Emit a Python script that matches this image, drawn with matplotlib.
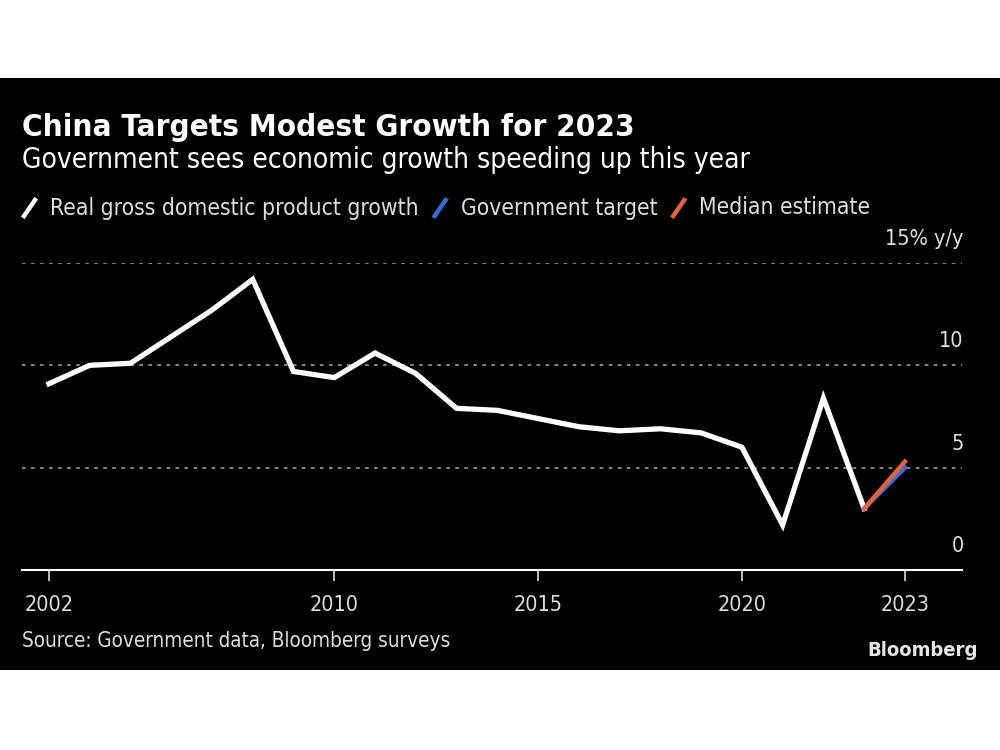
import matplotlib
matplotlib.use("Agg")
import matplotlib.pyplot as plt
from matplotlib.lines import Line2D
from matplotlib.patches import Rectangle
import matplotlib.transforms as mtransforms

# data
years = list(range(2002, 2023))
gdp = [9.1, 10.0, 10.1, 11.4, 12.7, 14.2, 9.7, 9.4, 10.6, 9.6, 7.9,
       7.8, 7.4, 7.0, 6.8, 6.9, 6.7, 6.0, 2.2, 8.4, 3.0]
target_years = [2022, 2023]
target = [3.0, 5.0]
median_est = [3.0, 5.3]
tick_pos = [2002, 2009, 2014, 2019, 2023]
tick_labels = ["2002", "2010", "2015", "2020", "2023"]
y_ticks = [0, 5, 10, 15]
y_labels = ["0", "5", "10", "15% y/y"]

WHITE = "#ffffff"
BLUE = "#2e6fd8"
ORANGE = "#e8613b"
GREY = "#dedede"

plt.rcParams["font.family"] = ["DejaVu Sans"]
plt.rcParams["font.stretch"] = "condensed"

fig = plt.figure(figsize=(10, 7.5), dpi=100)
fig.patch.set_facecolor("white")
# black panel
fig.add_artist(Rectangle((0, 80 / 750), 1, 592 / 750, transform=fig.transFigure,
                         facecolor="black", edgecolor="none", zorder=-10))

ax = fig.add_axes([22 / 1000, (750 - 570) / 750, 940 / 1000, 307 / 750])
ax.set_facecolor("none")
ax.set_xlim(2001.34, 2024.4)
ax.set_ylim(0, 15)

for v in y_ticks[1:]:
    ax.axhline(v, color="#8f8f8f", lw=1.3, ls=(0, (2, 3)), zorder=1)

ax.plot(years, gdp, color=WHITE, lw=3.8, solid_joinstyle="miter", zorder=3)
ax.plot(target_years, target, color=BLUE, lw=3.2, zorder=4)
ax.plot(target_years, median_est, color=ORANGE, lw=3.2, zorder=5)

for s in ["top", "right", "left"]:
    ax.spines[s].set_visible(False)
ax.spines["bottom"].set_color(WHITE)
ax.spines["bottom"].set_linewidth(1.5)
ax.set_yticks([])
ax.set_xticks(tick_pos)
ax.set_xticklabels(tick_labels)
ax.tick_params(axis="x", colors=GREY, length=8, width=1.2, pad=10, labelsize=15.5)

# y labels sit above their grid lines, right aligned
lift = mtransforms.ScaledTranslation(0, 10 / 72, fig.dpi_scale_trans)
trans = mtransforms.blended_transform_factory(ax.transAxes, ax.transData) + lift
for v, lab in zip(y_ticks, y_labels):
    ax.text(1.002, v, lab, transform=trans, ha="right", va="bottom",
            color=GREY, fontsize=15.5)

fig.text(22 / 1000, 1 - 127 / 750, "China Targets Modest Growth for 2023", color=WHITE,
         fontsize=22.5, fontweight="bold", va="center")
fig.text(22 / 1000, 1 - 160 / 750, "Government sees economic growth speeding up this year",
         color=WHITE, fontsize=20.2, va="center")

# legend row
renderer = fig.canvas.get_renderer()
legend_items = [("Real gross domestic product growth", WHITE),
                ("Government target", BLUE),
                ("Median estimate", ORANGE)]
x = 24
ymid = 750 - 208
for lab, col in legend_items:
    fig.add_artist(Line2D([x / 1000, (x + 11) / 1000],
                          [(ymid - 8) / 750, (ymid + 8) / 750],
                          transform=fig.transFigure, color=col, lw=3.2))
    t = fig.text((x + 26) / 1000, ymid / 750, lab, color=GREY, fontsize=16.4, va="center")
    bb = t.get_window_extent(renderer)
    x = bb.x1 + 16

fig.text(22 / 1000, 1 - 641 / 750, "Source: Government data, Bloomberg surveys",
         color=GREY, fontsize=14.9, va="center")
fig.text(978 / 1000, 1 - 651 / 750, "Bloomberg", color="#e6e6e6", fontsize=14.5,
         fontweight="bold", ha="right", va="center")

fig.savefig("out.png", dpi=100, facecolor=fig.get_facecolor())
